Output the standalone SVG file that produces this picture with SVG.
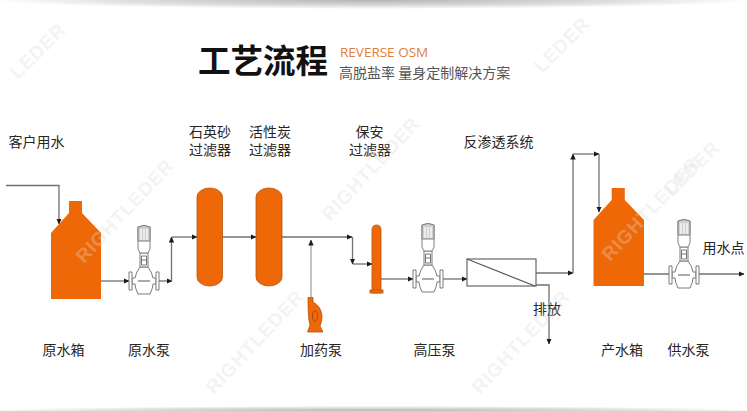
<svg xmlns="http://www.w3.org/2000/svg" width="747" height="411" viewBox="0 0 747 411">
<style>
text{font-family:"Noto Sans CJK SC","Noto Sans",sans-serif}
.lb{font-size:14px;fill:#262626;text-anchor:middle}
.wm{font-family:"Liberation Sans",sans-serif;font-size:19px;font-weight:700;fill:#dcdcdc;opacity:.32;letter-spacing:1px}
.ln{fill:none;stroke:#707070;stroke-width:1.3}
.eq{fill:#ee6808;stroke:#b5540f;stroke-width:.8}
.pu{fill:#fff;stroke:#7a7a7a;stroke-width:1}
</style>
<defs>
<radialGradient id="sh" cx=".5" cy=".5" r=".5"><stop offset="0" stop-color="#b4b4b4"/><stop offset=".65" stop-color="#dedede"/><stop offset="1" stop-color="#fff"/></radialGradient>
<marker id="a" viewBox="0 0 6 6" refX="5.500" refY="3" markerWidth="6" markerHeight="6" orient="auto" markerUnits="userSpaceOnUse"><path d="M0 .3L6 3L0 5.700z" fill="#1c1c1c"/></marker>
<g id="pump">
<path class="pu" d="M-12-3H-9Q-8-9-4-14H4Q8-9 9-3H12V3H9Q9 7 6 13H-6Q-9 7-9 3H-12Z"/>
<path class="pu" d="M-15-9H-12V9H-15ZM12-9H15V9H12Z"/>
<path d="M-6 0H6" stroke="#555" stroke-width="1"/>
<path class="pu" d="M-4-28H4V-14H-4Z"/>
<path d="M-2.500-25V-16H2.500V-25ZM-2.500-21H2.500" fill="none" stroke="#777" stroke-width="1"/>
<path d="M-6-54Q0-57 6-54V-32L4-28H-4L-6-32Z" fill="#fff" stroke="#808080"/>
<path d="M-6-54Q0-57 6-54V-40H-6Z" fill="#cfcfcf" stroke="#808080"/>
<path d="M-3-52V-41M0-52V-41M3-52V-41" stroke="#fff" stroke-width="1.200"/>
</g>
<path id="tank" d="M18 0H31V12L50 32V98H0V32L18 12Z"/>
</defs>
<rect width="747" height="411" fill="#fff"/>
<ellipse cx="373" cy="0" rx="380" ry="9" fill="url(#sh)"/>
<ellipse cx="373" cy="411" rx="400" ry="5" fill="url(#sh)"/>
<g id="title">
<text x="198" y="73" font-size="32.500" font-weight="700" fill="#111">工艺流程</text>
<text x="340" y="57" font-size="13.500" fill="#e0803a" style="font-family:'Open Sans','Noto Sans',sans-serif">REVERSE OSM</text>
<text x="339" y="78" font-size="14" fill="#555">高脱盐率 量身定制解决方案</text>
</g>
<g id="connectors">
<path class="ln" marker-end="url(#a)" d="M6 185.500H59V224"/>
<path class="ln" marker-end="url(#a)" d="M101 281H129"/>
<path class="ln" marker-end="url(#a)" d="M159 281H172"/>
<path class="ln" marker-end="url(#a)" d="M171.500 281V237"/>
<path class="ln" marker-end="url(#a)" d="M172 237H197"/>
<path class="ln" marker-end="url(#a)" d="M222 237H256"/>
<path class="ln" marker-end="url(#a)" d="M282 237H352"/>
<path class="ln" marker-end="url(#a)" d="M352.500 237V264"/>
<path class="ln" marker-end="url(#a)" d="M353 264H372"/>
<path class="ln" style="stroke:#a5a5a5" marker-end="url(#a)" d="M311 297V240"/>
<path class="ln" marker-end="url(#a)" d="M381 279H413"/>
<path class="ln" marker-end="url(#a)" d="M443 279H467"/>
<path class="ln" marker-end="url(#a)" d="M536 273H573"/>
<path class="ln" marker-end="url(#a)" d="M573 273V154"/>
<path class="ln" marker-end="url(#a)" d="M573 154H599"/>
<path class="ln" marker-end="url(#a)" d="M599 154V212"/>
<path class="ln" marker-end="url(#a)" d="M536 285H549V344"/>
<path class="ln" marker-end="url(#a)" d="M644 274H670M698 274H744"/>
</g>
<g id="raw-tank"><use href="#tank" transform="translate(51 201)" fill="#ee6808"/><text class="lb" x="63.500" y="355">原水箱</text></g>
<g id="raw-pump"><use href="#pump" transform="translate(144 281)"/><text class="lb" x="149" y="355">原水泵</text></g>
<g id="sand-filter"><rect class="eq" x="197" y="188" width="25.500" height="98" rx="12.500" ry="9"/><text class="lb"><tspan x="210" y="137">石英砂</tspan><tspan x="210" y="155">过滤器</tspan></text></g>
<g id="carbon-filter"><rect class="eq" x="256" y="188" width="26" height="98" rx="13" ry="9"/><text class="lb"><tspan x="270" y="137">活性炭</tspan><tspan x="270" y="155">过滤器</tspan></text></g>
<g id="dosing-pump"><path class="eq" d="M308 297.500H313V302Q321 306 322 316Q322 322 320 326L323 332H307.500L310 325Q308 320 308 297.500Z"/><ellipse cx="315" cy="316" rx="2.500" ry="5" fill="none" stroke="#a84d0c"/><text class="lb" x="321" y="355">加药泵</text></g>
<g id="guard-filter"><path class="eq" d="M372 293V230Q372 225 376.500 225Q381 225 381 230V293Z"/><rect class="eq" x="370" y="290" width="13" height="3"/><text class="lb"><tspan x="369.500" y="137">保安</tspan><tspan x="370" y="155">过滤器</tspan></text></g>
<g id="hp-pump"><use href="#pump" transform="translate(428 279)"/><text class="lb" x="434.500" y="355">高压泵</text></g>
<g id="ro-system"><rect x="467" y="259" width="69" height="27" fill="#fff" stroke="#666" stroke-width="1.200"/><path d="M467 259L535 286" stroke="#555" stroke-width="1.200"/><text class="lb" x="498.500" y="147">反渗透系统</text></g>
<g id="drain"><text class="lb" x="547" y="314">排放</text></g>
<g id="product-tank"><use href="#tank" transform="translate(593.500 188) scale(1.010 1)" fill="#ee6808"/><text class="lb" x="622" y="355">产水箱</text></g>
<g id="supply-pump"><use href="#pump" transform="translate(684 275)"/><text class="lb" x="688.500" y="355">供水泵</text></g>
<g id="use-point"><text class="lb" x="723.500" y="253">用水点</text></g>
<g id="customer"><text class="lb" x="36.500" y="147">客户用水</text></g>
<g id="watermarks">
<text class="wm" transform="translate(84 264) rotate(-47)">RIGHTLEDER</text>
<text class="wm" transform="translate(610 262) rotate(-47)">RIGHTLEDER</text>
<text class="wm" transform="translate(330 222) rotate(-47)">RIGHTLEDER</text>
<text class="wm" transform="translate(214 395) rotate(-47)">RIGHTLEDER</text>
<text class="wm" transform="translate(480 395) rotate(-47)">RIGHTLEDER</text>
<text class="wm" transform="translate(18 80) rotate(-45)">LEDER</text>
<text class="wm" transform="translate(542 74) rotate(-45)">LEDER</text>
<text class="wm" transform="translate(672 198) rotate(-45)">LEDER</text>
</g>
</svg>
